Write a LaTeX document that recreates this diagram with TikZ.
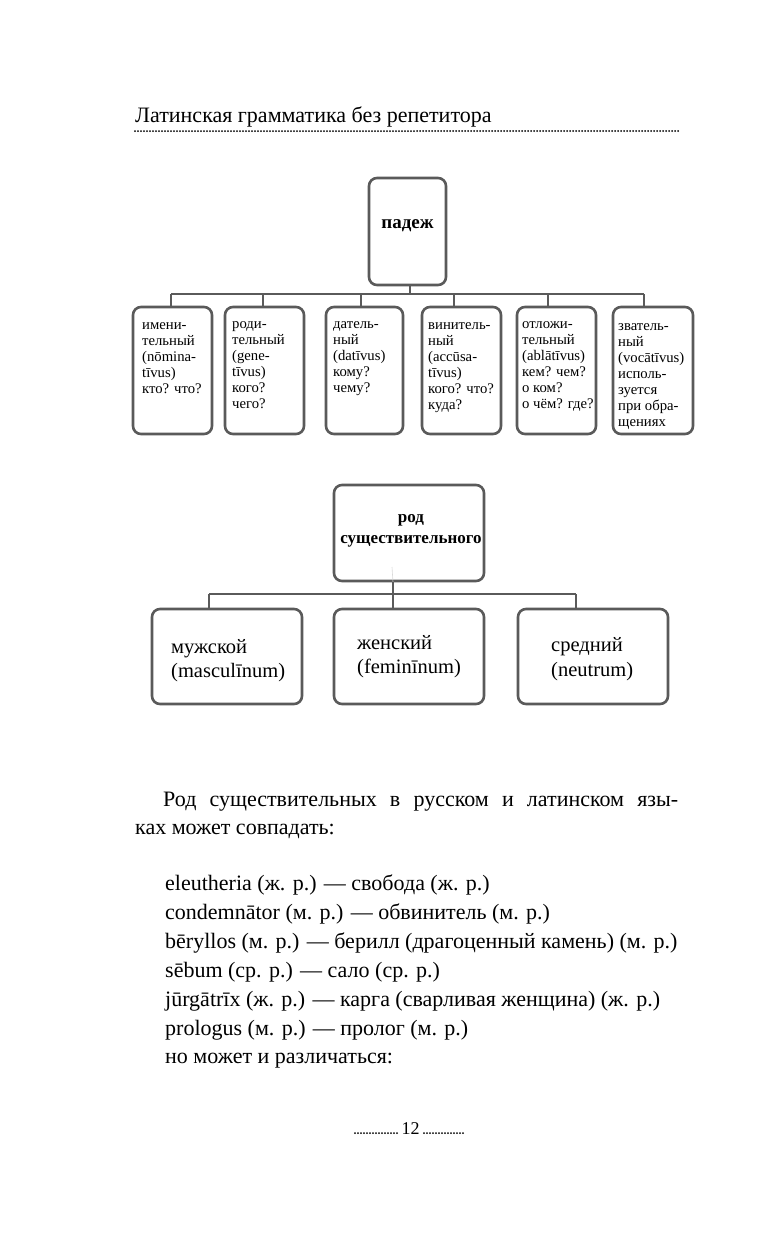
\documentclass[tikz,border=0pt]{standalone}
\usepackage{fontspec}
\setmainfont{Liberation Serif}
\definecolor{boxgray}{HTML}{5A5A5A}
\begin{document}
\begin{tikzpicture}[x=1pt,y=-1pt,
  boxline/.style={draw=boxgray, line width=2.6pt, rounded corners=8pt},
  conn/.style={draw=boxgray, line width=2.6pt},
  dotline/.style={draw=black, line width=2pt, line cap=round, dash pattern=on 0pt off 3pt},
  smalltext/.style={anchor=north west, inner sep=0pt, align=left, font=\fontsize{14.7}{16}\selectfont},
  midtext/.style={anchor=north west, inner sep=0pt, align=left, font=\fontsize{20.5}{24.5}\selectfont},
  bodytext/.style={anchor=base west, inner sep=0pt, font=\fontsize{22}{28}\selectfont},
  headtext/.style={anchor=base west, inner sep=0pt, font=\fontsize{22}{26}\selectfont}]
\useasboundingbox (0,0) rectangle (768,1240);
\fill[white] (0,0) rectangle (768,1240);

% header
\node[headtext] (title) at (135,122) {Латинская грамматика без репетитора};
\draw[dotline] (135,131) -- (678,131);

% diagram 1
\node[boxline, minimum width=77pt, minimum height=107pt] (padezh) at (407.5,231.5) {};
\node[anchor=base, inner sep=0pt, font=\bfseries\fontsize{19}{22}\selectfont] (padezhT) at (407.5,228) {падеж};

\node[boxline, minimum width=79pt, minimum height=127pt] (c1) at (172.5,370.5) {};
\node[boxline, minimum width=79pt, minimum height=127pt] (c2) at (264.5,370.5) {};
\node[boxline, minimum width=77pt, minimum height=127pt] (c3) at (364.5,370.5) {};
\node[boxline, minimum width=79pt, minimum height=127pt] (c4) at (461.5,370.5) {};
\node[boxline, minimum width=79pt, minimum height=127pt] (c5) at (556.5,370.5) {};
\node[boxline, minimum width=80pt, minimum height=127pt] (c6) at (653,370.5) {};

\node[smalltext] (t1) at (142,318.5) {\strut имени-\\тельный\\(nōmina-\\tīvus)\\кто? что?};
\node[smalltext] (t2) at (232,317) {\strut роди-\\тельный\\(gene-\\tīvus)\\кого?\\чего?};
\node[smalltext] (t3) at (333,317) {\strut датель-\\ный\\(datīvus)\\кому?\\чему?};
\node[smalltext] (t4) at (428,318.5) {\strut винитель-\\ный\\(accūsa-\\tīvus)\\кого? что?\\куда?};
\node[smalltext] (t5) at (522,317.5) {\strut отложи-\\тельный\\(ablātīvus)\\кем? чем?\\о ком?\\о чём? где?};
\node[smalltext] (t6) at (618,319) {\strut зватель-\\ный\\(vocātīvus)\\исполь-\\зуется\\при обра-\\щениях};

\coordinate (s1) at (171,294);
\coordinate (s2) at (263,294);
\coordinate (s3) at (361,294);
\coordinate (s4) at (454,294);
\coordinate (s5) at (548,294);
\coordinate (s6) at (644,294);
\coordinate (sp) at (410,294);
\draw[conn] (sp |- padezh.south) -- (sp);
\draw[conn] (s1) -- (s6);
\foreach \i in {1,...,6}{\draw[conn] (s\i) -- (s\i |- c\i.north);}

% diagram 2
\node[boxline, minimum width=150pt, minimum height=96pt] (rod) at (409,533) {};
\node[anchor=north, inner sep=0pt, align=center, font=\bfseries\fontsize{17}{21}\selectfont] (rodT) at (411,507.3) {\strut род\\существительного};

\node[boxline, minimum width=150pt, minimum height=95pt] (g1) at (227,656.5) {};
\node[boxline, minimum width=150pt, minimum height=95pt] (g2) at (409,656.5) {};
\node[boxline, minimum width=150pt, minimum height=95pt] (g3) at (593,656.5) {};
\node[midtext] (u1) at (171,636) {\strut мужской\\(masculīnum)};
\node[midtext] (u2) at (357,632) {\strut женский\\(feminīnum)};
\node[midtext] (u3) at (551,634.5) {\strut средний\\(neutrum)};

\coordinate (b1) at (209,594);
\coordinate (b2) at (393,594);
\coordinate (b3) at (576,594);
\draw[black!15, line width=0.6pt] (392,567) -- (b2 |- rod.south);
\draw[conn] (b2 |- rod.south) -- (b2);
\draw[conn] (b1) -- (b3);
\foreach \i in {1,2,3}{\draw[conn] (b\i) -- (b\i |- g\i.north);}

% body text
\node[bodytext] (p1) at (163,806) {\makebox[515pt][s]{Род существительных в русском и латинском язы-}};
\node[bodytext] (p2) at (135,834) {ках может совпадать:};
\node[bodytext] (e1) at (165,890) {eleutheria (ж. р.) — свобода (ж. р.)};
\node[bodytext] (e2) at (165,919) {condemnātor (м. р.) — обвинитель (м. р.)};
\node[bodytext] (e3) at (165,948) {bēryllos (м. р.) — берилл (драгоценный камень) (м. р.)};
\node[bodytext] (e4) at (165,977) {sēbum (ср. р.) — сало (ср. р.)};
\node[bodytext] (e5) at (165,1006) {jūrgātrīx (ж. р.) — карга (сварливая женщина) (ж. р.)};
\node[bodytext] (e6) at (165,1035) {prologus (м. р.) — пролог (м. р.)};
\node[bodytext] (e7) at (165,1063) {но может и различаться:};

% footer
\node[anchor=base, inner sep=0pt, font=\fontsize{18}{20}\selectfont] (pg) at (410.5,1134) {12};
\draw[dotline] (355,1133) -- (397,1133);
\draw[dotline] (424,1133) -- (465,1133);
\end{tikzpicture}
\end{document}
